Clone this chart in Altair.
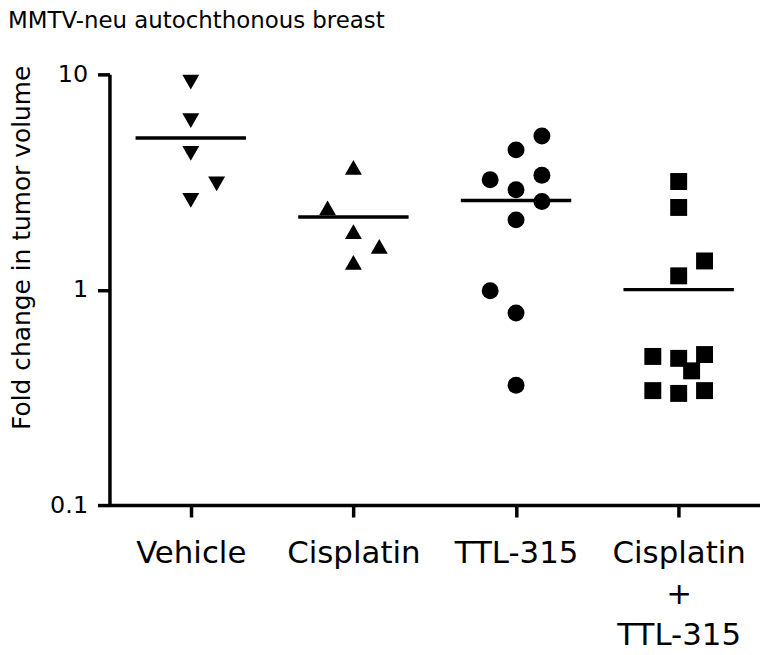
import altair as alt
import pandas as pd

groups = ["Vehicle", "Cisplatin", "TTL-315", "Cisplatin\n+\nTTL-315"]
shapes = ["triangle-down", "triangle-up", "circle", "square"]
chart_title = "MMTV-neu autochthonous breast"

vehicle = [9.2, 6.1, 4.3, 3.1, 2.6]
vehicle_slot = [0, 0, 0, 1, 0]
cisplatin = [3.7, 2.4, 1.86, 1.59, 1.34]
cisplatin_slot = [0, -1, 0, 1, 0]
ttl = [5.17, 4.46, 3.24, 3.40, 2.91, 2.57, 2.11, 0.99, 0.78, 0.36]
ttl_slot = [1, 0, -1, 1, 0, 1, 0, -1, 0, 0]
combo = [3.18, 2.41, 1.36, 1.16, 0.49, 0.48, 0.50, 0.42, 0.34, 0.33, 0.34]
combo_slot = [0, 0, 1, 0, -1, 0, 1, 0.5, -1, 0, 1]

rows = []
for g, vals, slots in zip(groups, [vehicle, cisplatin, ttl, combo],
                          [vehicle_slot, cisplatin_slot, ttl_slot, combo_slot]):
    for v, s in zip(vals, slots):
        rows.append({"group": g, "value": v, "slot": s})
df = pd.DataFrame(rows)

FONT = "DejaVu Sans"

x_scale = alt.Scale(type="point", domain=groups, padding=0.5)
y_scale = alt.Scale(type="log", domain=[0.1, 10], nice=False)

x_enc = alt.X(
    "group:N",
    sort=groups,
    scale=x_scale,
    axis=alt.Axis(
        title=None,
        labelAngle=0,
        labelAlign="center",
        labelFont=FONT,
        labelFontSize=31,
        labelColor="black",
        labelPadding=22,
        labelLineHeight=41,
        labelExpr="split(datum.label, '\\n')",
        labelBaseline="top",
        tickSize=12,
        tickWidth=3.5,
        tickColor="black",
        domainColor="black",
        domainWidth=3.5,
        grid=False,
    ),
)

y_enc = alt.Y(
    "value:Q",
    scale=y_scale,
    axis=alt.Axis(
        values=[0.1, 1, 10],
        format="~g",
        title="Fold change in tumor volume",
        titleFont=FONT,
        titleFontSize=25,
        titleFontWeight="normal",
        titleColor="black",
        titleAngle=270,
        titleAlign="left",
        titleBaseline="alphabetic",
        titleX=-80,
        titleY=357,
        labelFont=FONT,
        labelFontSize=24,
        labelColor="black",
        labelPadding=10,
        tickSize=12,
        tickWidth=3.5,
        tickColor="black",
        domainColor="black",
        domainWidth=3.5,
        grid=False,
    ),
)

points = alt.Chart(df).mark_point(filled=True, size=290, opacity=1, color="black").encode(
    x=x_enc,
    xOffset=alt.XOffset("slot:Q", scale=alt.Scale(domain=[-1, 1], range=[-26, 26])),
    y=y_enc,
    shape=alt.Shape("group:N", scale=alt.Scale(domain=groups, range=shapes), legend=None),
)

means = alt.Chart(df).mark_tick(size=111, thickness=3.5, color="black", opacity=1).encode(
    x=alt.X("group:N", sort=groups, scale=x_scale),
    y=alt.Y("mean(value):Q", scale=y_scale),
)

ref = alt.Chart(df).mark_rule(color="black", strokeWidth=1.3).encode(
    x=alt.value(0),
    x2=alt.X2(datum=groups[-1]),
    y=alt.Y(datum=1, scale=y_scale),
)

title_text = alt.Chart(pd.DataFrame({"t": [chart_title]})).mark_text(
    font=FONT, fontSize=23, color="black", align="left", baseline="alphabetic"
).encode(
    text="t:N",
    x=alt.value(-102),
    y=alt.value(-47),
)

chart = alt.layer(ref, means, points, title_text).properties(
    width=654,
    height=433,
    background="white",
    autosize=alt.AutoSizeParams(type="none"),
    padding={"left": 102, "top": 65, "right": 0, "bottom": 147},
).configure_view(stroke=None).configure_axis(grid=False)

chart.save("out.html", embed_options={"renderer": "svg", "actions": False})
